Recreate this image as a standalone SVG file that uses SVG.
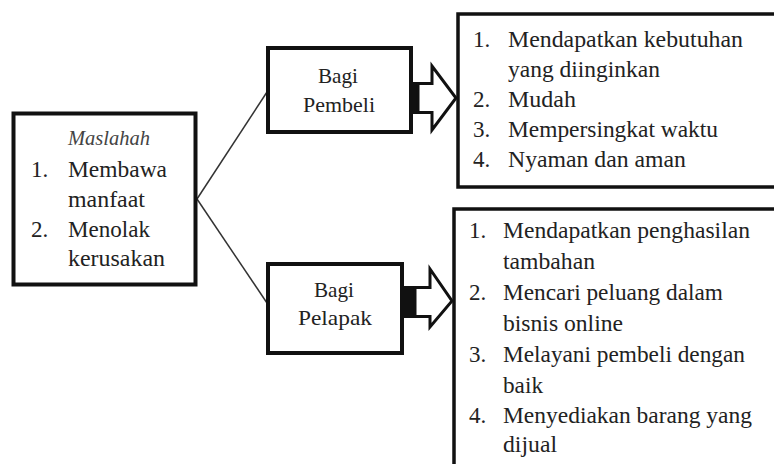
<svg xmlns="http://www.w3.org/2000/svg" width="774" height="464" viewBox="0 0 774 464">
<style>
.box{fill:#fff;stroke:#111;stroke-width:4}
.t{font-family:"Liberation Serif","Times New Roman",serif;font-size:23px;fill:#222}
.m{font-size:22px;text-anchor:middle}
.i{font-style:italic;font-size:20px;fill:#444}
.conn{stroke:#333;stroke-width:1.5;fill:none}
.arr{fill:#fff;stroke:#111;stroke-width:3;stroke-linejoin:miter}
</style>
<rect width="774" height="464" fill="#fff"/>
<g id="connectors">
<line class="conn" x1="197" y1="199" x2="267" y2="92"/>
<line class="conn" x1="197" y1="199" x2="267" y2="303"/>
</g>
<g id="maslahah">
<rect class="box" x="13.5" y="113.5" width="182" height="171"/>
<text class="t i" x="68" y="145" textLength="82" lengthAdjust="spacingAndGlyphs">Maslahah</text>
<text class="t" x="31" y="177">1.</text><text class="t" x="68" y="177" textLength="99" lengthAdjust="spacingAndGlyphs">Membawa</text>
<text class="t" x="68" y="207" textLength="77" lengthAdjust="spacingAndGlyphs">manfaat</text>
<text class="t" x="31" y="237">2.</text><text class="t" x="68" y="237" textLength="82" lengthAdjust="spacingAndGlyphs">Menolak</text>
<text class="t" x="68" y="266" textLength="97" lengthAdjust="spacingAndGlyphs">kerusakan</text>
</g>
<g id="pembeli">
<rect class="box" x="268" y="48" width="143" height="84"/>
<text class="t m" x="338" y="83" textLength="40" lengthAdjust="spacingAndGlyphs">Bagi</text>
<text class="t m" x="339" y="112" textLength="72" lengthAdjust="spacingAndGlyphs">Pembeli</text>
</g>
<g id="pelapak">
<rect class="box" x="268" y="264" width="134" height="89"/>
<text class="t m" x="334" y="297" textLength="40" lengthAdjust="spacingAndGlyphs">Bagi</text>
<text class="t m" x="335" y="325" textLength="74" lengthAdjust="spacingAndGlyphs">Pelapak</text>
</g>
<g id="arrow-pembeli">
<rect x="410" y="82" width="9" height="32" fill="#111"/>
<path class="arr" d="M418,83.5 H432 V66 L456,98 L432,130 V112.5 H418 Z"/>
</g>
<g id="arrow-pelapak">
<rect x="402" y="286" width="14" height="32" fill="#111"/>
<path class="arr" d="M415,287.5 H430 V269 L452,301 L430,327 V316.5 H415 Z"/>
</g>
<g id="manfaat-pembeli">
<rect class="box" x="458" y="14" width="320" height="173" style="stroke-width:3.5"/>
<text class="t" x="473" y="47">1.</text><text class="t" x="508" y="47" textLength="235" lengthAdjust="spacingAndGlyphs">Mendapatkan kebutuhan</text>
<text class="t" x="508" y="77" textLength="152" lengthAdjust="spacingAndGlyphs">yang diinginkan</text>
<text class="t" x="473" y="107">2.</text><text class="t" x="508" y="107" textLength="68" lengthAdjust="spacingAndGlyphs">Mudah</text>
<text class="t" x="473" y="137">3.</text><text class="t" x="508" y="137" textLength="210" lengthAdjust="spacingAndGlyphs">Mempersingkat waktu</text>
<text class="t" x="473" y="167">4.</text><text class="t" x="508" y="167" textLength="178" lengthAdjust="spacingAndGlyphs">Nyaman dan aman</text>
</g>
<g id="manfaat-pelapak">
<rect class="box" x="454" y="209" width="330" height="270" style="stroke-width:3.5"/>
<text class="t" x="469" y="238">1.</text><text class="t" x="503" y="238" textLength="247" lengthAdjust="spacingAndGlyphs">Mendapatkan penghasilan</text>
<text class="t" x="503" y="269" textLength="92" lengthAdjust="spacingAndGlyphs">tambahan</text>
<text class="t" x="469" y="300">2.</text><text class="t" x="503" y="300" textLength="220" lengthAdjust="spacingAndGlyphs">Mencari peluang dalam</text>
<text class="t" x="503" y="331" textLength="120" lengthAdjust="spacingAndGlyphs">bisnis online</text>
<text class="t" x="469" y="362">3.</text><text class="t" x="503" y="362" textLength="242" lengthAdjust="spacingAndGlyphs">Melayani pembeli dengan</text>
<text class="t" x="503" y="393" textLength="40" lengthAdjust="spacingAndGlyphs">baik</text>
<text class="t" x="469" y="423">4.</text><text class="t" x="503" y="423" textLength="249" lengthAdjust="spacingAndGlyphs">Menyediakan barang yang</text>
<text class="t" x="503" y="452" textLength="54" lengthAdjust="spacingAndGlyphs">dijual</text>
</g>
</svg>
